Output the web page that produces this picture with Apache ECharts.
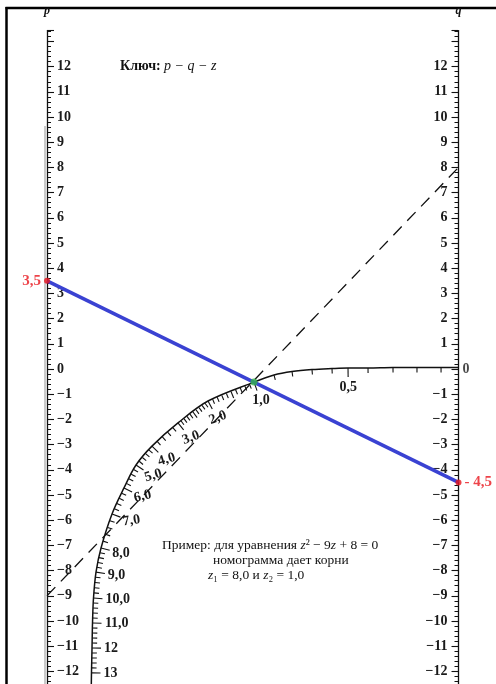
<!DOCTYPE html>
<html>
<head>
<meta charset="utf-8">
<script src="https://cdn.jsdelivr.net/npm/echarts@6/dist/echarts.min.js"></script>
<style>
  html, body { margin: 0; padding: 0; background: #fff; overflow: hidden; }
  #chart { width: 496px; height: 700px; }
</style>
</head>
<body>
<div id="chart"></div>
<script>
// Nomogram for z^2 + p*z + q = 0 : two parallel scales (p, q) and a curved z scale.

// Shared range of the p and q scales
const scaleMin = -13;
const scaleMax = 13.43;
const labelLimit = 12;

// Curved z scale: graduation values and their positions
// (x: fraction of the way from the p scale to the q scale, y: in scale units)
const zAnchor  = [0, 0.1, 0.2, 0.3, 0.4, 0.5, 0.6, 0.7, 0.8, 0.9, 1, 2, 3, 4, 5, 6, 7, 8, 9, 10, 11, 12, 13, 13.6];
const zAnchorX = [1.0, 0.9576, 0.8991, 0.8408, 0.7801, 0.7315, 0.6926, 0.6440, 0.5954, 0.5516, 0.5030,
                  0.3913, 0.3183, 0.2551, 0.2163, 0.1871, 0.1580, 0.1313, 0.1191, 0.1130, 0.1106, 0.1094, 0.1081, 0.1075];
const zAnchorY = [0.06, 0.06, 0.06, 0.06, 0.04, 0.04, 0.02, -0.02, -0.10, -0.24, -0.52,
                  -1.27, -2.14, -3.06, -3.81, -4.72, -5.75, -7.10, -8.06, -9.09, -10.08, -11.07, -12.06, -12.75];

// Labelled z graduations
const zLabelValues = [0.5, 1, 2, 3, 4, 5, 6, 7, 8, 9, 10, 11, 12, 13];
const zLabelText   = ['0,5', '1,0', '2,0', '3,0', '4,0', '5,0', '6,0', '7,0', '8,0', '9,0', '10,0', '11,0', '12', '13'];
const zLabelTilt   = [0, 0, 0.35, 0.35, 0.3, 0.3, 0.25, 0.15, 0, 0, 0, 0, 0, 0];

// Key line: p = 3.5, q = -4.5  -> root z = 1
const keyP = 3.5;
const keyQ = -4.5;
const keyRoot = 1;

// Worked example: z^2 - 9z + 8 = 0  (p = -9, q = 8)
const exampleP = -9;
const exampleQ = 8;

const SERIF = '"Liberation Serif", "DejaVu Serif", serif';

// position on the z curve for a given z (piecewise between graduations)
function zPoint(z) {
  z = Math.max(zAnchor[0], Math.min(zAnchor[zAnchor.length - 1], z));
  let i = 0;
  while (i < zAnchor.length - 2 && z > zAnchor[i + 1]) i++;
  const t = (z - zAnchor[i]) / (zAnchor[i + 1] - zAnchor[i]);
  return [zAnchorX[i] + t * (zAnchorX[i + 1] - zAnchorX[i]),
          zAnchorY[i] + t * (zAnchorY[i + 1] - zAnchorY[i])];
}

// graduation marks of the z scale
const zTicks = [];
function addTick(z) {
  const isInt = Math.abs(z - Math.round(z)) < 1e-9 && z >= 1;
  const isHalf = Math.abs(z * 2 - Math.round(z * 2)) < 1e-9;
  const len = (isInt || Math.abs(z - 0.5) < 1e-9) ? 9 : (isHalf ? 7 : 5);
  const p = zPoint(z), a = zPoint(z - 0.05), b = zPoint(z + 0.05);
  zTicks.push([p[0], p[1], a[0], a[1], b[0], b[1], len]);
}
for (let k = 1; k <= 9; k++) addTick(k / 10);
for (let k = 10; k <= 30; k++) addTick(k / 10);
for (let k = 16; k <= 65; k++) addTick(k / 5);

const zCurve = zAnchor.map((z, i) => [zAnchorX[i], zAnchorY[i]]);

const zLabelData = zLabelValues.map((z, i) => {
  const p = zPoint(z), a = zPoint(z - 0.05), b = zPoint(z + 0.05);
  return [p[0], p[1], a[0], a[1], b[0], b[1], i];
});

function normalAt(api) {
  const b = api.coord([api.value(0), api.value(1)]);
  const a = api.coord([api.value(2), api.value(3)]);
  const c = api.coord([api.value(4), api.value(5)]);
  let tx = c[0] - a[0], ty = c[1] - a[1];
  const L = Math.hypot(tx, ty) || 1; tx /= L; ty /= L;
  let nx = -ty, ny = tx;
  if (nx + ny < 0) { nx = -nx; ny = -ny; }
  return { b, nx, ny };
}

function fmtComma(v) {
  const s = String(Math.abs(v)).replace('.', ',');
  return v < 0 ? '- ' + s : s;
}

function scaleLabel(hideZero) {
  return function (v) {
    const r = Math.round(v);
    if (Math.abs(v - r) > 1e-6 || Math.abs(r) > labelLimit) return '';
    if (r === 0) return hideZero ? '' : '0';
    return r < 0 ? '\u2212' + (-r) : String(r);
  };
}

const axisCommon = {
  type: 'value',
  min: scaleMin,
  max: scaleMax,
  interval: 1,
  splitLine: { show: false },
  axisLine: { show: true, onZero: false, lineStyle: { color: '#111', width: 1.3 } },
  axisTick: { show: true, inside: true, length: 7, lineStyle: { color: '#111', width: 1.1 } },
  minorTick: { show: true, splitNumber: 5, length: 4, lineStyle: { color: '#111', width: 1 } },
  nameLocation: 'end',
  nameGap: 14,
  nameTextStyle: { fontFamily: SERIF, fontStyle: 'italic', fontWeight: 'bold', fontSize: 12, color: '#111' }
};

const labelFont = { fontFamily: SERIF, fontSize: 14, fontWeight: 'bold', color: '#1a1a1a' };

const chart = echarts.init(document.getElementById('chart'), null, { renderer: 'canvas' });

chart.setOption({
  animation: false,
  backgroundColor: '#fff',
  grid: { left: 47, top: 30.6, width: 411.5, height: 666.0 },
  xAxis: { type: 'value', min: 0, max: 1, show: false },
  yAxis: [
    Object.assign({}, axisCommon, {
      name: 'p', position: 'left',
      axisLabel: Object.assign({ inside: true, margin: 10, formatter: scaleLabel(false) }, labelFont)
    }),
    Object.assign({}, axisCommon, {
      name: 'q', position: 'right',
      axisLabel: Object.assign({ inside: true, margin: 11, formatter: scaleLabel(true) }, labelFont)
    })
  ],
  series: [
    {
      name: 'z scale', type: 'line', data: zCurve, smooth: 0.35, symbol: 'none',
      lineStyle: { color: '#111', width: 1.5 }, z: 2
    },
    {
      name: 'z graduations', type: 'custom', data: zTicks, z: 2,
      renderItem: function (params, api) {
        const n = normalAt(api);
        const len = api.value(6);
        return {
          type: 'line',
          shape: { x1: n.b[0], y1: n.b[1], x2: n.b[0] + n.nx * len, y2: n.b[1] + n.ny * len },
          style: { stroke: '#111', lineWidth: 1.1 }
        };
      }
    },
    {
      name: 'z labels', type: 'custom', data: zLabelData, z: 3,
      renderItem: function (params, api) {
        const n = normalAt(api);
        const i = api.value(6);
        const txt = zLabelText[i];
        const w = txt.replace(',', '').length * 7 + (txt.indexOf(',') >= 0 ? 3.5 : 0);
        const d = 9 + 3;
        return {
          type: 'text',
          x: n.b[0] + n.nx * d + n.nx * w / 2,
          y: n.b[1] + n.ny * d + n.ny * 7,
          rotation: zLabelTilt[i],
          style: {
            text: txt, fontFamily: SERIF, fontSize: 14, fontWeight: 'bold', fill: '#1a1a1a',
            align: 'center', verticalAlign: 'middle'
          }
        };
      }
    },
    {
      name: 'example', type: 'line', data: [[0, exampleP], [1, exampleQ]], symbol: 'none',
      lineStyle: { color: '#111', width: 1.3, type: [12, 8] }, z: 3
    },
    {
      name: 'key', type: 'line', data: [[0, keyP], [1, keyQ]], symbol: 'none',
      lineStyle: { color: '#3a42d2', width: 3.6 }, z: 4
    },
    {
      name: 'key ends', type: 'scatter', symbol: 'circle', symbolSize: 6,
      itemStyle: { color: '#e8141c' }, z: 5,
      data: [
        { value: [0, keyP], label: { position: 'left', distance: 3 } },
        { value: [1, keyQ], label: { position: 'right', distance: 3 } }
      ],
      label: {
        show: true, fontFamily: SERIF, fontWeight: 'bold', fontSize: 15, color: '#e8141c',
        formatter: p => fmtComma(p.value[1])
      }
    },
    {
      name: 'root', type: 'scatter', data: [zPoint(keyRoot)], symbol: 'circle', symbolSize: 7,
      itemStyle: { color: '#33b24a' }, z: 6
    },
    {
      name: 'q zero', type: 'scatter', yAxisIndex: 1, data: [[1, 0]], symbolSize: 0, z: 3,
      label: { show: true, position: 'right', distance: 4, formatter: '0', fontFamily: SERIF, fontSize: 14, fontWeight: 'bold', color: '#1a1a1a' }
    }
  ],
  graphic: [
    { type: 'line', shape: { x1: 6.5, y1: 7, x2: 6.5, y2: 700 }, style: { stroke: '#000', lineWidth: 2.5 } },
    { type: 'line', shape: { x1: 5.5, y1: 8, x2: 496, y2: 8 }, style: { stroke: '#000', lineWidth: 2.5 } },
    { type: 'line', shape: { x1: 45, y1: 126, x2: 45, y2: 700 }, style: { stroke: '#b8b8b8', lineWidth: 1.5 } },
    {
      type: 'text', left: 120, top: 59,
      style: {
        text: '{b|Ключ:} {i|p − q − z}',
        rich: {
          b: { fontFamily: SERIF, fontSize: 14, fontWeight: 'bold', fill: '#111' },
          i: { fontFamily: SERIF, fontSize: 14, fontStyle: 'italic', fill: '#111' }
        }
      }
    },
    {
      type: 'text', left: 162, top: 538,
      style: {
        text: '{n|Пример: для уравнения }{i|z}{n|² − 9}{i|z}{n| + 8 = 0}',
        rich: {
          n: { fontFamily: SERIF, fontSize: 13.5, fill: '#111' },
          i: { fontFamily: SERIF, fontSize: 13.5, fontStyle: 'italic', fill: '#111' }
        }
      }
    },
    {
      type: 'text', left: 213, top: 553,
      style: { text: 'номограмма дает корни', fontFamily: SERIF, fontSize: 13.5, fill: '#111' }
    },
    {
      type: 'text', left: 208, top: 568,
      style: {
        text: '{i|z}{n|₁ = 8,0 и }{i|z}{n|₂ = 1,0}',
        rich: {
          n: { fontFamily: SERIF, fontSize: 13.5, fill: '#111' },
          i: { fontFamily: SERIF, fontSize: 13.5, fontStyle: 'italic', fill: '#111' }
        }
      }
    }
  ]
});
</script>
</body>
</html>
